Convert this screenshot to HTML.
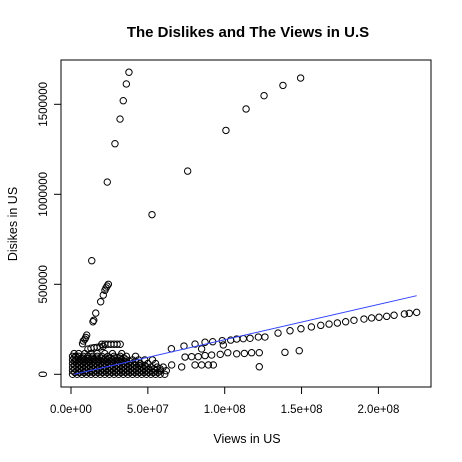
<!DOCTYPE html>
<html><head><meta charset="utf-8"><style>
html,body{margin:0;padding:0;background:#fff;}
svg{display:block;font-family:"Liberation Sans",Arial,sans-serif;}
</style></head><body>
<svg id="chart" width="462" height="462" viewBox="0 0 462 462" xmlns="http://www.w3.org/2000/svg">
<rect x="0" y="0" width="462" height="462" fill="#fff"/>
<text x="248" y="37" text-anchor="middle" font-size="15" font-weight="bold">The Dislikes and The Views in U.S</text>
<text x="247" y="443" text-anchor="middle" font-size="12.5">Views in US</text>
<text transform="translate(17,224) rotate(-90)" text-anchor="middle" font-size="12.5">Disikes in US</text>
<rect x="61" y="60" width="370" height="327" fill="none" stroke="#000" stroke-width="1"/>
<g id="xaxis"></g>
<g id="yaxis"></g>
<g id="points"></g>
<g id="fit"></g>
</svg>
<script>
// views in millions, dislikes in thousands
const xTicks = [0, 50, 100, 150, 200];
const xTickLabels = ["0.0e+00", "5.0e+07", "1.0e+08", "1.5e+08", "2.0e+08"];
const yTicks = [0, 500, 1000, 1500];
const yTickLabels = ["0", "500000", "1000000", "1500000"];
const views = [
37.7,36,34,31.9,28.6,23.6,13.5,52.7,75.9,100.8,113.9,125.6,137.9,149.4,
24.3,23.5,22.8,22.1,21,19.3,16.1,14.8,14.3,10.2,9.6,9,8,7.5,
20,22,24,26,28,30,32, 11,13,15,17,19,21,
224.9,220.1,216.9,210.2,205.4,200.4,195.6,190.6,184.1,178.7,173.3,167.9,162.5,156.4,149.6,142.5,134.7,126.2,121.9,116.5,112.1,107.8,103.9,98.4,92.2,87.2,80.7,73.5,65.3,
148.5,139.2,122.5,117.5,112.8,107.8,102,97.1,91.5,87.2,82.8,78.5,74.2,122.5,
65.5,72,80.7,85,89.4,92.6,99.1,85,
1,4,7,10,13,16,19,22,25,28,31,34,37,40,43,46,49,52,55,58,61,
2.5,5.5,8.5,11.5,14.5,17.5,20.5,23.5,26.5,29.5,32.5,35.5,38.5,41.5,44.5,47.5,50.5,53.5,56.5,
1,4,7,10,13,16,19,22,25,28,31,34,37,40,43,46,49,52,55,58,62,
2.5,5.5,8.5,11.5,14.5,17.5,20.5,23.5,26.5,29.5,32.5,35.5,38.5,41.5,44.5,47.5,50.5,54,58,
1,4,7,10,13,16,19,22,25,28,31,34,37,40,43,46,49,52,56,60,
2.5,5.5,8.5,11.5,14.5,17.5,20.5,23.5,26.5,29.5,32.5,35.5,38.5,41.5,44.5,48,
1,4,7,10,13,16,19,22,25,28,31,34,37,40,45,50,55,
2.5,5.5,8.5,11.5,14.5,17.5,20.5,23.5,26.5,29.5,32.5,35.5,38.5,42,
1,3,6,9,12,15,18,21,24,27,30,33,36,40,44,48,53,
2,4.5,7.5,10.5,13.5,16.5,19.5,22.5,25.5,28.5,31.5,34.5,
1,3,5,8,11,14,17,20,24,28,32,36,42,
2,5,9,13,17,22,27,33
];
const dislikes = [
1678,1613,1520,1418,1281,1068,631,887,1129,1355,1474,1548,1605,1646,
500,490,480,467,440,403,340,300,292,218,205,195,185,170,
167,167,167,167,167,167,167, 140,145,148,150,152,155,
344,339,335,328,322,317,313,307,300,292,285,279,272,263,253,242,229,207,207,200,198,196,190,187,181,178,168,157,142,
131,122,120,120,116,114,120,111,107,104,98,98,96,42,
52,41,52,52,52,52,163,141,
0,0,0,0,0,0,0,0,0,0,0,0,0,0,0,0,0,0,0,0,0,
10,10,10,10,10,10,10,10,10,10,10,10,10,10,10,10,10,10,10,
20,20,20,20,20,20,20,20,20,20,20,20,20,20,20,20,20,20,20,20,20,
30,30,30,30,30,30,30,30,30,30,30,30,30,30,30,30,30,30,30,
40,40,40,40,40,40,40,40,40,40,40,40,40,40,40,40,40,40,40,40,
50,50,50,50,50,50,50,50,50,50,50,50,50,50,50,50,
60,60,60,60,60,60,60,60,60,60,60,60,60,60,60,60,60,
70,70,70,70,70,70,70,70,70,70,70,70,70,70,
80,80,80,80,80,80,80,80,80,80,80,80,80,80,80,80,80,
90,90,90,90,90,90,90,90,90,90,90,90,
100,100,100,100,100,100,100,100,100,100,100,100,100,
115,115,115,115,115,115,115,115
];
const fitIntercept = -4;
const fitSlope = 1.96;
const fitRange = [2.1, 224.9];

const NS = "http://www.w3.org/2000/svg";
function xs(v){ return 71 + v * 1.537; }
function ys(d){ return 374.3 - d * 0.18; }
function mk(tag, attrs, parent){ const e=document.createElementNS(NS,tag); for(const k in attrs) e.setAttribute(k,attrs[k]); parent.appendChild(e); return e; }

const xa = document.getElementById('xaxis');
mk('line',{x1:xs(xTicks[0]),x2:xs(xTicks[xTicks.length-1]),y1:387,y2:387,stroke:'#000'},xa);
xTicks.forEach((t,i)=>{
  const l = mk('line',{x1:xs(t),x2:xs(t),y1:387,y2:394,stroke:'#000'},xa);
  
  
  const tx = mk('text',{x:xs(t),y:413,'text-anchor':'middle','font-size':'11.5'},xa);
  tx.textContent = xTickLabels[i];
  
  
});
const ya = document.getElementById('yaxis');
mk('line',{x1:61,x2:61,y1:ys(yTicks[0]),y2:ys(yTicks[yTicks.length-1]),stroke:'#000'},ya);
yTicks.forEach((t,i)=>{
  const l = mk('line',{x1:54,x2:61,y1:ys(t),y2:ys(t),stroke:'#000'},ya);
  
  
  const tx = mk('text',{transform:`translate(47,${ys(t)}) rotate(-90)`,'text-anchor':'middle','font-size':'11.5'},ya);
  tx.textContent = yTickLabels[i];
  
  
});
const pg = document.getElementById('points');
for(let i=0;i<views.length;i++){
  const c = mk('circle',{cx:xs(views[i]),cy:ys(dislikes[i]),r:3.2,fill:'none',stroke:'#000','stroke-width':1},pg);
  
  
}
const fg = document.getElementById('fit');
const fl = mk('line',{x1:xs(fitRange[0]),y1:ys(fitIntercept+fitSlope*fitRange[0]),x2:xs(fitRange[1]),y2:ys(fitIntercept+fitSlope*fitRange[1]),stroke:'#3344ff','stroke-width':1},fg);


</script>
</body></html>
